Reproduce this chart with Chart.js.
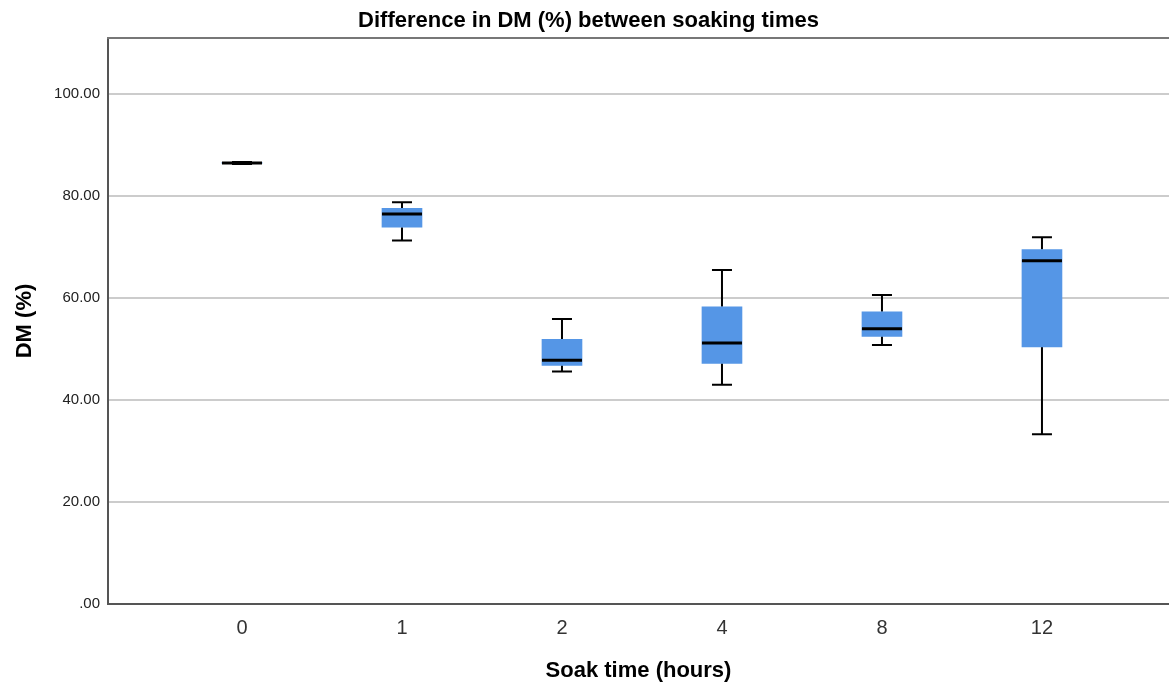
<!DOCTYPE html>
<html>
<head>
<meta charset="utf-8">
<script src="https://cdn.jsdelivr.net/npm/chart.js@4"></script>
<style>
  html, body { margin: 0; padding: 0; background: #fff; }
  #wrap { width: 1169px; height: 686px; }
</style>
</head>
<body>
<div id="wrap"><canvas id="chart"></canvas></div>
<script>
const CATEGORIES = ["0", "1", "2", "4", "8", "12"]

// box plot summary (DM %)
const WHISKER_LOW = [86.3, 71.3, 45.6, 43.0, 50.8, 33.3]
const Q1 = [86.4, 73.9, 46.8, 47.2, 52.5, 50.4]
const MEDIAN = [86.5, 76.5, 47.8, 51.2, 54.0, 67.3]
const Q3 = [86.6, 77.6, 51.9, 58.3, 57.3, 69.5]
const WHISKER_HIGH = [86.7, 78.8, 55.9, 65.5, 60.6, 71.9]

const Y_TICKS = [0, 20, 40, 60, 80, 100]

const BOX_BLUE = "#5596e6"
const AXIS_GREY = "#555555"
const BOX_WIDTH = 40
const CAP_WIDTH = 20

Chart.defaults.font.family = "'Liberation Sans', Arial, sans-serif"

const boxParts = {
  id: "boxParts",
  beforeDatasetsDraw: (chart) => {
    const { ctx } = chart
    const x = chart.scales.x
    const y = chart.scales.y

    ctx.save()
    ctx.strokeStyle = "#000"
    ctx.lineWidth = 2

    CATEGORIES.forEach((_, i) => {
      const cx = x.getPixelForValue(i)
      const hi = y.getPixelForValue(WHISKER_HIGH[i])
      const lo = y.getPixelForValue(WHISKER_LOW[i])

      ctx.beginPath()
      ctx.moveTo(cx, hi)
      ctx.lineTo(cx, y.getPixelForValue(Q3[i]))
      ctx.moveTo(cx, y.getPixelForValue(Q1[i]))
      ctx.lineTo(cx, lo)
      ctx.moveTo(cx - CAP_WIDTH / 2, hi)
      ctx.lineTo(cx + CAP_WIDTH / 2, hi)
      ctx.moveTo(cx - CAP_WIDTH / 2, lo)
      ctx.lineTo(cx + CAP_WIDTH / 2, lo)
      ctx.stroke()
    })

    ctx.restore()
  },
  afterDatasetsDraw: (chart) => {
    const { ctx } = chart
    const x = chart.scales.x
    const y = chart.scales.y

    ctx.save()
    ctx.strokeStyle = "#000"
    ctx.lineWidth = 3

    CATEGORIES.forEach((_, i) => {
      const cx = x.getPixelForValue(i)
      const my = y.getPixelForValue(MEDIAN[i])

      ctx.beginPath()
      ctx.moveTo(cx - BOX_WIDTH / 2, my)
      ctx.lineTo(cx + BOX_WIDTH / 2, my)
      ctx.stroke()
    })

    // frame line along the top of the plot
    const { left, right, top } = chart.chartArea
    ctx.strokeStyle = "#777777"
    ctx.lineWidth = 2
    ctx.beginPath()
    ctx.moveTo(left - 1, top)
    ctx.lineTo(right, top)
    ctx.stroke()

    ctx.restore()
  },
}

new Chart(document.getElementById("chart"), {
  type: "bar",
  data: {
    datasets: [
      {
        label: "DM (%)",
        data: CATEGORIES.map((_, i) => ({ x: i, y: [Q1[i], Q3[i]] })),
        backgroundColor: BOX_BLUE,
        borderWidth: 0,
        barThickness: BOX_WIDTH,
      },
    ],
  },
  options: {
    animation: false,
    responsive: true,
    maintainAspectRatio: false,
    layout: { padding: { left: 8, right: 0, top: 0, bottom: 0 } },
    plugins: {
      legend: { display: false },
      tooltip: { enabled: false },
      title: {
        display: true,
        text: "Difference in DM (%) between soaking times",
        color: "#000",
        font: { size: 22, weight: "bold" },
        padding: { top: 8, bottom: 3.6 },
      },
    },
    scales: {
      x: {
        type: "linear",
        offset: false,
        min: -0.8375,
        max: 5.794,
        grid: { display: false, drawTicks: false },
        border: { display: true, color: AXIS_GREY, width: 2 },
        afterBuildTicks: (scale) => {
          scale.ticks = CATEGORIES.map((_, i) => ({ value: i }))
        },
        afterFit: (scale) => {
          scale.height = 82
        },
        ticks: {
          padding: 12,
          color: "#333",
          font: { size: 20 },
          maxRotation: 0,
          autoSkip: false,
          callback: (value) => CATEGORIES[value],
        },
        title: {
          display: true,
          text: "Soak time (hours)",
          color: "#000",
          font: { size: 22, weight: "bold" },
          padding: { top: 10, bottom: 2 },
        },
      },
      y: {
        min: 0,
        max: 111,
        grid: { color: "#cccccc", lineWidth: 2, drawTicks: false },
        border: { display: true, color: AXIS_GREY, width: 2 },
        afterBuildTicks: (scale) => {
          scale.ticks = Y_TICKS.map((v) => ({ value: v }))
        },
        afterFit: (scale) => {
          scale.width = 100
        },
        ticks: {
          padding: 8,
          color: "#222",
          font: { size: 15 },
          callback: (value) => (value === 0 ? ".00" : value.toFixed(2)),
        },
        title: {
          display: true,
          text: "DM (%)",
          color: "#000",
          font: { size: 22, weight: "bold" },
          padding: { top: 4, bottom: 4 },
        },
      },
    },
  },
  plugins: [boxParts],
})
</script>
</body>
</html>
